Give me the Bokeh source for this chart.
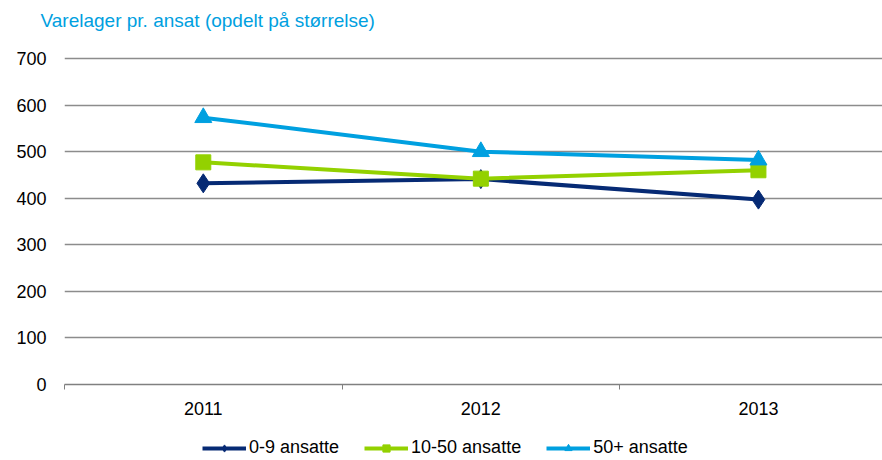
from bokeh.plotting import figure
from bokeh.layouts import column
from bokeh.models import Range1d, FixedTicker, Legend, LegendItem, ColumnDataSource
from bokeh.embed import file_html
from bokeh.resources import INLINE

years = [2011, 2012, 2013]
year_labels = ["2011", "2012", "2013"]
s_small = [432, 441, 397]
s_mid = [477, 442, 460]
s_large = [573, 500, 482]
series_names = ["0-9 ansatte", "10-50 ansatte", "50+ ansatte"]
y_ticks = [0, 100, 200, 300, 400, 500, 600, 700]
title_text = "Varelager pr. ansat (opdelt på størrelse)"

FONT = "Liberation Sans"
C_DARK = "#062A74"
C_GREEN = "#93D100"
C_BLUE = "#00A0E0"
W = 882


def bare(fig):
    fig.outline_line_color = None
    fig.background_fill_color = "white"
    fig.border_fill_color = "white"
    fig.xgrid.grid_line_color = None
    fig.ygrid.grid_line_color = None
    return fig


# ---- header with title ----
head = bare(figure(width=W, height=44, output_backend="svg", toolbar_location=None,
                   x_range=Range1d(0, 1), y_range=Range1d(0, 1),
                   x_axis_location=None, y_axis_location=None,
                   min_border=0, min_border_left=64, min_border_right=0))
head.title.text = title_text
head.title.text_font = FONT
head.title.text_font_size = "19px"
head.title.text_font_style = "normal"
head.title.text_color = C_BLUE
head.title.align = "left"
head.title.offset = -24
head.title.standoff = 14

# ---- main chart ----
p = figure(width=W, height=386, output_backend="svg", toolbar_location=None,
           x_range=Range1d(2010.5, 2013.447), y_range=Range1d(0, 704.3),
           min_border_left=64, min_border_right=0, min_border_top=12, min_border_bottom=46)
p.outline_line_color = None
p.background_fill_color = "white"
p.border_fill_color = "white"

xt = FixedTicker(ticks=years, minor_ticks=[2010.5, 2011.5, 2012.5])
p.xaxis.ticker = xt
p.xaxis.major_label_overrides = {y: l for y, l in zip(years, year_labels)}
p.xaxis.major_tick_out = 0
p.xaxis.major_tick_in = 0
p.xaxis.minor_tick_out = 5
p.xaxis.minor_tick_in = 0
p.xaxis.minor_tick_line_color = "#808080"
p.xaxis.axis_line_color = "#808080"
p.xaxis.axis_line_width = 1.5
p.xaxis.major_label_text_font = FONT
p.xaxis.major_label_text_font_size = "18px"
p.xaxis.major_label_text_color = "#000000"
p.xaxis.major_label_standoff = 12
p.xgrid.grid_line_color = None

p.yaxis.ticker = FixedTicker(ticks=y_ticks)
p.yaxis.axis_line_color = None
p.yaxis.major_tick_line_color = None
p.yaxis.minor_tick_line_color = None
p.yaxis.major_label_text_font = FONT
p.yaxis.major_label_text_font_size = "18px"
p.yaxis.major_label_text_color = "#000000"
p.yaxis.major_label_standoff = 12
p.ygrid.grid_line_color = "#8C8C8C"
p.ygrid.grid_line_width = 1.5

src = ColumnDataSource(dict(x=years, a=s_small, b=s_mid, c=s_large))

p.line("x", "a", source=src, line_color=C_DARK, line_width=4)
p.scatter("x", "a", source=src, marker="diamond", size=19, fill_color=C_DARK, line_color=C_DARK)
p.line("x", "b", source=src, line_color=C_GREEN, line_width=4)
p.scatter("x", "b", source=src, marker="square", size=15, fill_color=C_GREEN, line_color=C_GREEN)
p.line("x", "c", source=src, line_color=C_BLUE, line_width=4)
p.scatter("x", "c", source=src, marker="triangle", size=17, fill_color=C_BLUE, line_color=C_BLUE)

# ---- legend strip ----
lg = bare(figure(width=W, height=30, output_backend="svg", toolbar_location=None,
                 x_range=Range1d(0, 1), y_range=Range1d(0, 1),
                 x_axis_location=None, y_axis_location=None,
                 min_border=0, min_border_left=64, min_border_right=0))
off = ColumnDataSource(dict(x=[-5], y=[-5]))
k1 = [lg.line("x", "y", source=off, line_color=C_DARK, line_width=4),
      lg.scatter("x", "y", source=off, marker="diamond", size=10, fill_color=C_DARK, line_color=C_DARK)]
k2 = [lg.line("x", "y", source=off, line_color=C_GREEN, line_width=4),
      lg.scatter("x", "y", source=off, marker="square", size=10, fill_color=C_GREEN, line_color=C_GREEN)]
k3 = [lg.line("x", "y", source=off, line_color=C_BLUE, line_width=4),
      lg.scatter("x", "y", source=off, marker="triangle", size=10, fill_color=C_BLUE, line_color=C_BLUE)]
legend = Legend(items=[LegendItem(label=series_names[0], renderers=k1),
                       LegendItem(label=series_names[1], renderers=k2),
                       LegendItem(label=series_names[2], renderers=k3)],
                orientation="horizontal", location=(138, 2),
                label_text_font=FONT, label_text_font_size="18px", label_text_color="#000000",
                glyph_width=44, glyph_height=18, label_standoff=3, spacing=25,
                padding=0, margin=0, border_line_color=None, background_fill_alpha=0)
lg.add_layout(legend)

layout = column(head, p, lg, spacing=0)
open("out.html", "w").write(file_html(layout, INLINE))
